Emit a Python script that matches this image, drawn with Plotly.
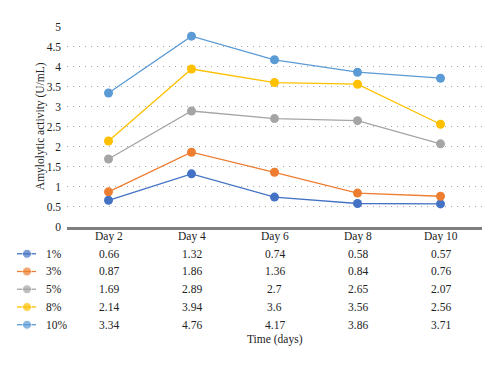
import plotly.graph_objects as go

days = ["Day 2", "Day 4", "Day 6", "Day 8", "Day 10"]
series_names = ["1%", "3%", "5%", "8%", "10%"]
v1 = [0.66, 1.32, 0.74, 0.58, 0.57]
v3 = [0.87, 1.86, 1.36, 0.84, 0.76]
v5 = [1.69, 2.89, 2.7, 2.65, 2.07]
v8 = [2.14, 3.94, 3.6, 3.56, 2.56]
v10 = [3.34, 4.76, 4.17, 3.86, 3.71]
series_values = [v1, v3, v5, v8, v10]
colors = ["#4472C4", "#ED7D31", "#A5A5A5", "#FFC000", "#5B9BD5"]
y_ticks = [0, 0.5, 1, 1.5, 2, 2.5, 3, 3.5, 4, 4.5, 5]

# page body adds an 8px margin; figure is sized to fit the window
OFF = 8
W, H = 500 - OFF, 369 - OFF
FONT = "Liberation Serif, Times New Roman, serif"
TXT = "#222222"
FS = 11.5


def px(x):
    return (x - OFF) / W


def py(y):
    return (H - (y - OFF)) / H


fig = go.Figure()

for name, vals, col in zip(series_names, series_values, colors):
    fig.add_trace(go.Scatter(
        x=days, y=vals, mode="lines+markers", name=name,
        line=dict(color=col, width=1.3),
        marker=dict(color=col, size=9),
        xaxis="x", yaxis="y", showlegend=False, cliponaxis=False,
    ))

header_y = 238
row0_y = 256
row_h = 18.35
legend_x0, legend_xm, legend_x1 = 17, 27, 36
label_x = 44

for i, (name, col) in enumerate(zip(series_names, colors)):
    ry = row0_y + i * row_h
    fig.add_trace(go.Scatter(
        x=[legend_x0 - OFF, legend_xm - OFF, legend_x1 - OFF],
        y=[ry - OFF] * 3,
        mode="lines+markers",
        line=dict(color=col, width=1.3),
        marker=dict(color=col, size=[0, 9, 0]),
        xaxis="x2", yaxis="y2", showlegend=False, hoverinfo="skip",
    ))

annotations = []
for d in days:
    annotations.append(dict(x=d, y=py(header_y), xref="x", yref="paper",
                            text=d, showarrow=False, xanchor="center", yanchor="middle",
                            font=dict(family=FONT, size=FS, color=TXT)))
for i, (name, vals) in enumerate(zip(series_names, series_values)):
    ry = row0_y + i * row_h
    annotations.append(dict(x=px(label_x), y=py(ry), xref="paper", yref="paper",
                            text=name, showarrow=False, xanchor="left", yanchor="middle",
                            font=dict(family=FONT, size=FS, color=TXT)))
    for d, v in zip(days, vals):
        annotations.append(dict(x=d, y=py(ry), xref="x", yref="paper",
                                text=f"{v:g}", showarrow=False, xanchor="center", yanchor="middle",
                                font=dict(family=FONT, size=FS, color=TXT)))
annotations.append(dict(x=px(275), y=py(345), xref="paper", yref="paper",
                        text="Time (days)", showarrow=False, xanchor="center", yanchor="middle",
                        font=dict(family=FONT, size=FS, color=TXT)))
annotations.append(dict(x=px(40), y=py(124), xref="paper", yref="paper",
                        text="Amylolytic activity (U/mL)", textangle=-90, showarrow=False,
                        xanchor="center", yanchor="middle",
                        font=dict(family=FONT, size=FS, color=TXT)))

fig.update_layout(
    width=W, height=H,
    margin=dict(l=0, r=0, t=0, b=0),
    paper_bgcolor="white", plot_bgcolor="rgba(0,0,0,0)",
    xaxis=dict(domain=[px(67), px(482)], range=[-0.5, 4.5], type="category",
               categoryorder="array", categoryarray=days,
               showticklabels=False, showgrid=False, zeroline=False,
               showline=True, linecolor="#7f7f7f", linewidth=3, anchor="y", fixedrange=True),
    yaxis=dict(domain=[py(228), py(21)], range=[0, 5], tickvals=y_ticks,
               ticktext=[f"{t:g}" for t in y_ticks],
               showgrid=True, gridcolor="#a6a6a6", gridwidth=1.2, griddash="1px,5px",
               zeroline=False, showline=False, ticks="", ticklabelstandoff=5,
               tickfont=dict(family=FONT, size=FS, color=TXT), anchor="x"),
    xaxis2=dict(domain=[0, 1], range=[0, W], visible=False, anchor="y2"),
    yaxis2=dict(domain=[0, 1], range=[H, 0], visible=False, anchor="x2"),
    annotations=annotations,
)

fig.write_html("out.html")
